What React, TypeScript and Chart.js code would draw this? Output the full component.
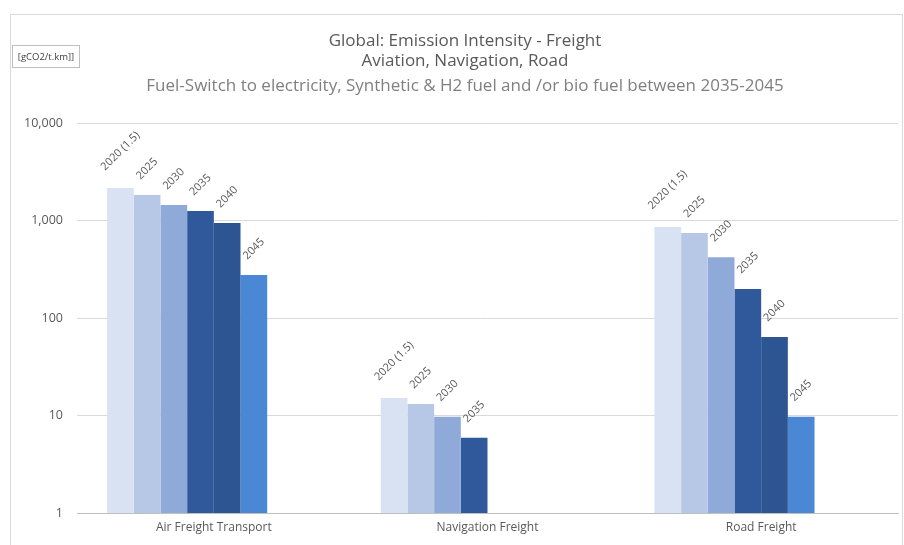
import React, { useEffect, useRef } from 'react';
import { Chart, registerables } from 'chart.js';

Chart.register(...registerables);

const categories = ['Air Freight Transport', 'Navigation Freight', 'Road Freight'];
const seriesLabels = ['2020 (1.5)', '2025', '2030', '2035', '2040', '2045', '2050', '2055'];
const s2020 = [2150, 15.1, 860];
const s2025 = [1830, 13.1, 745];
const s2030 = [1440, 9.7, 420];
const s2035 = [1250, 5.9, 198];
const s2040 = [940, null, 64];
const s2045 = [276, null, 9.7];
const s2050 = [null, null, null];
const s2055 = [null, null, null];
const seriesValues = [s2020, s2025, s2030, s2035, s2040, s2045, s2050, s2055];
const seriesColors = ['#d9e2f2', '#b6c8e6', '#8faad9', '#30599c', '#2d5592', '#4a88d6', '#a5a5a5', '#a5a5a5'];
const yTicks = [1, 10, 100, 1000, 10000];

const titleLines = ['Global: Emission Intensity - Freight', 'Aviation, Navigation, Road'];
const subtitle = 'Fuel-Switch to electricity, Synthetic & H2 fuel and /or bio fuel between 2035-2045';
const unitLabel = '[gCO2/t.km]]';

const FONT = '"Open Sans", "Noto Sans", sans-serif';

const decorPlugin = {
  id: 'decor',
  beforeDraw(chart: any) {
    const ctx = chart.ctx;
    ctx.save();
    ctx.fillStyle = '#ffffff';
    ctx.fillRect(0, 0, chart.width, chart.height);
    ctx.strokeStyle = '#d9d9d9';
    ctx.lineWidth = 1;
    ctx.strokeRect(10.5, 14.5, 892, 540);
    // titles
    ctx.textAlign = 'center';
    ctx.textBaseline = 'middle';
    ctx.fillStyle = '#595959';
    ctx.font = `17px ${FONT}`;
    ctx.fillText(titleLines[0], 465, 41);
    ctx.fillText(titleLines[1], 465, 61);
    ctx.fillStyle = '#808080';
    ctx.font = `17px ${FONT}`;
    ctx.fillText(subtitle, 465, 86);
    // unit box
    ctx.strokeStyle = '#bfbfbf';
    ctx.strokeRect(12.5, 45.5, 67, 22);
    ctx.fillStyle = '#404040';
    ctx.font = `9.5px ${FONT}`;
    ctx.fillText(unitLabel, 46, 57);
    ctx.restore();
  },
  afterDatasetsDraw(chart: any) {
    const ctx = chart.ctx;
    ctx.save();
    ctx.font = `11px ${FONT}`;
    ctx.fillStyle = '#595959';
    ctx.textAlign = 'center';
    ctx.textBaseline = 'middle';
    chart.data.datasets.forEach((ds: any, di: number) => {
      const meta = chart.getDatasetMeta(di);
      meta.data.forEach((el: any, i: number) => {
        const v = ds.data[i];
        if (v === null || v === undefined) return;
        const text = seriesLabels[di];
        const w = ctx.measureText(text).width;
        const off = w * 0.44 + 15;
        ctx.save();
        ctx.translate(el.x, el.y - off);
        ctx.rotate(-Math.PI / 4);
        ctx.fillText(text, 0, 0);
        ctx.restore();
      });
    });
    ctx.restore();
  },
};

export default function App() {
  const ref = useRef<HTMLCanvasElement>(null);
  useEffect(() => {
    if (!ref.current) return;
    const chart = new Chart(ref.current, {
      type: 'bar',
      data: {
        labels: categories,
        datasets: seriesLabels.map((label, i) => ({
          label,
          data: seriesValues[i],
          backgroundColor: seriesColors[i],
          borderWidth: 0,
          categoryPercentage: 0.78,
          barPercentage: 1.0,
        })),
      },
      options: {
        responsive: false,
        animation: false,
        devicePixelRatio: 1,
        layout: { padding: { top: 123, left: 10, right: 6, bottom: 10 } },
        plugins: {
          legend: { display: false },
          title: { display: false },
          tooltip: { enabled: false },
        },
        scales: {
          x: {
            grid: { display: false, drawTicks: false },
            border: { display: true, color: '#bfbfbf' },
            ticks: { color: '#595959', font: { family: FONT, size: 12 }, padding: 7, maxRotation: 0 },
            afterFit(scale: any) { scale.height = 22; },
          },
          y: {
            type: 'logarithmic',
            min: 1,
            max: 10000,
            grid: { color: '#d9d9d9', drawTicks: false },
            border: { display: false },
            afterBuildTicks(scale: any) {
              scale.ticks = yTicks.map((v) => ({ value: v }));
            },
            ticks: {
              color: '#595959',
              font: { family: FONT, size: 12.5 },
              padding: 14,
              callback: (v: any) => Number(v).toLocaleString('en-US'),
            },
            afterFit(scale: any) { scale.width = 67; },
          },
        },
      },
      plugins: [decorPlugin],
    });
    return () => chart.destroy();
  }, []);
  return (
    <div style={{ position: 'absolute', left: 0, top: 0, width: 904, height: 545, background: '#fff' }}>
      <canvas ref={ref} width={904} height={545} style={{ display: 'block', width: 904, height: 545 }} />
    </div>
  );
}
